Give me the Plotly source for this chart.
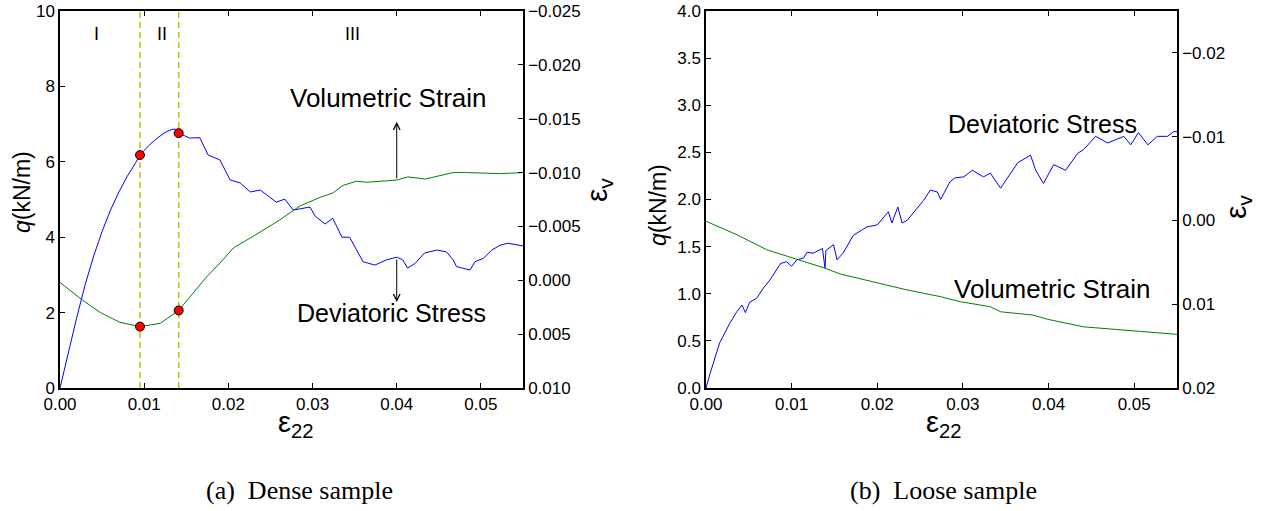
import plotly.graph_objects as go

# ---------------- Data: (a) Dense sample ----------------
dense_q_eps = [0.0, 0.001, 0.002, 0.003, 0.004, 0.005, 0.006, 0.007, 0.008, 0.009, 0.0095,
               0.0105, 0.0115, 0.0125, 0.0133, 0.0137, 0.0141, 0.0154, 0.0166, 0.0176, 0.019,
               0.0202, 0.0214, 0.0226, 0.0238, 0.0257, 0.0267, 0.0277, 0.0285, 0.0293, 0.0297,
               0.0303, 0.0315, 0.0324, 0.0335, 0.0344, 0.0354, 0.036, 0.0374, 0.0388, 0.04,
               0.0407, 0.0413, 0.0422, 0.0433, 0.0448, 0.0459, 0.0467, 0.0471, 0.0479, 0.0487,
               0.0493, 0.0503, 0.0513, 0.0523, 0.0532, 0.055]
dense_q = [0.0, 0.95, 1.88, 2.75, 3.5, 4.15, 4.72, 5.2, 5.62, 5.98, 6.18,
           6.42, 6.62, 6.78, 6.86, 6.87, 6.76, 6.63, 6.64, 6.18, 6.05,
           5.52, 5.44, 5.2, 5.25, 4.93, 5.01, 4.72, 4.75, 4.77, 4.8,
           4.56, 4.35, 4.5, 4.0, 4.0, 3.58, 3.35, 3.26, 3.4, 3.47,
           3.4, 3.18, 3.31, 3.58, 3.66, 3.61, 3.4, 3.22, 3.18, 3.13,
           3.35, 3.44, 3.66, 3.79, 3.84, 3.77]

dense_ev_eps = [0.0, 0.0026, 0.0048, 0.0071, 0.0095, 0.0119, 0.0141, 0.0154, 0.0174, 0.019,
                0.0206, 0.0234, 0.0261, 0.0285, 0.0309, 0.0324, 0.0336, 0.0352, 0.0364, 0.04,
                0.0413, 0.0434, 0.0467, 0.0483, 0.0523, 0.055]
dense_ev = [0.0002, 0.0018, 0.0030, 0.0039, 0.0043, 0.0040, 0.0028, 0.0016, -0.0003, -0.0016,
            -0.0030, -0.0043, -0.0056, -0.0069, -0.0077, -0.0081, -0.0088, -0.0092, -0.0091, -0.0093,
            -0.0096, -0.0094, -0.0100, -0.0100, -0.0099, -0.0100]

phase_eps = [0.0095, 0.0141]
phase_q = [6.18, 6.76]
phase_ev = [0.0043, 0.0028]
phase_labels = ["I", "II", "III"]
phase_label_eps = [0.0043, 0.0121, 0.0348]

# ---------------- Data: (b) Loose sample ----------------
loose_q_eps = [0.0, 0.0005, 0.0016, 0.0028, 0.0036, 0.0042, 0.0046, 0.0051, 0.0059, 0.0067,
               0.0075, 0.0087, 0.0094, 0.0100, 0.0106, 0.0114, 0.0118, 0.0125, 0.0136, 0.0139,
               0.0140, 0.0149, 0.0153, 0.0160, 0.0172, 0.0188, 0.0200, 0.0213, 0.0217, 0.0224,
               0.0229, 0.0235, 0.0254, 0.0262, 0.0270, 0.0274, 0.0285, 0.0291, 0.0301, 0.0311,
               0.0324, 0.0332, 0.0344, 0.0364, 0.0379, 0.0385, 0.0394, 0.0406, 0.0420, 0.0434,
               0.0441, 0.0455, 0.0469, 0.0488, 0.0496, 0.0505, 0.0516, 0.0527, 0.0539, 0.0546, 0.055]
loose_q = [0.0, 0.16, 0.48, 0.69, 0.81, 0.88, 0.80, 0.91, 0.95, 1.06,
           1.15, 1.32, 1.34, 1.29, 1.36, 1.38, 1.44, 1.43, 1.48, 1.27,
           1.46, 1.52, 1.36, 1.43, 1.62, 1.71, 1.73, 1.87, 1.75, 1.92,
           1.75, 1.78, 1.99, 2.10, 2.08, 2.00, 2.19, 2.23, 2.24, 2.31,
           2.24, 2.28, 2.12, 2.39, 2.47, 2.31, 2.17, 2.37, 2.31, 2.49,
           2.53, 2.67, 2.60, 2.67, 2.58, 2.71, 2.58, 2.67, 2.67, 2.72, 2.72]

loose_ev_eps = [0.0, 0.0036, 0.0071, 0.0102, 0.0139, 0.0157, 0.0195, 0.0235, 0.0274, 0.0297,
                0.0332, 0.0344, 0.0382, 0.0399, 0.0441, 0.0481, 0.0516, 0.055]
loose_ev = [0.0001, 0.0017, 0.0035, 0.0045, 0.0057, 0.0064, 0.0073, 0.0083, 0.0091, 0.0097,
            0.0103, 0.0109, 0.0113, 0.0118, 0.0127, 0.0130, 0.0133, 0.0136]

x_ticks = [0.0, 0.01, 0.02, 0.03, 0.04, 0.05]
dense_q_ticks = [0, 2, 4, 6, 8, 10]
dense_ev_ticks = [-0.025, -0.020, -0.015, -0.010, -0.005, 0.0, 0.005, 0.010]
loose_q_ticks = [0.0, 0.5, 1.0, 1.5, 2.0, 2.5, 3.0, 3.5, 4.0]
loose_ev_ticks = [-0.02, -0.01, 0.0, 0.01, 0.02]

BLUE = "#0000ff"
GREEN = "#008000"
YEL = "#bfbf00"
TICKFONT = dict(family="Liberation Sans, Arial, sans-serif", size=17, color="black")

fig = go.Figure()

# Dense sample
fig.add_trace(go.Scatter(x=dense_q_eps, y=dense_q, mode="lines", line=dict(color=BLUE, width=1),
                         xaxis="x", yaxis="y", showlegend=False))
fig.add_trace(go.Scatter(x=dense_ev_eps, y=dense_ev, mode="lines", line=dict(color=GREEN, width=1),
                         xaxis="x", yaxis="y2", showlegend=False))
for e in phase_eps:
    fig.add_trace(go.Scatter(x=[e, e], y=[0, 10], mode="lines",
                             line=dict(color=YEL, width=1.5, dash="6px,4px"),
                             xaxis="x", yaxis="y", showlegend=False))
fig.add_trace(go.Scatter(x=phase_eps, y=phase_q, mode="markers",
                         marker=dict(color="red", size=9, line=dict(color="black", width=1)),
                         xaxis="x", yaxis="y", showlegend=False))
fig.add_trace(go.Scatter(x=phase_eps, y=phase_ev, mode="markers",
                         marker=dict(color="red", size=9, line=dict(color="black", width=1)),
                         xaxis="x", yaxis="y2", showlegend=False))

# Loose sample
fig.add_trace(go.Scatter(x=loose_q_eps, y=loose_q, mode="lines", line=dict(color=BLUE, width=1),
                         xaxis="x2", yaxis="y3", showlegend=False))
fig.add_trace(go.Scatter(x=loose_ev_eps, y=loose_ev, mode="lines", line=dict(color=GREEN, width=1),
                         xaxis="x2", yaxis="y4", showlegend=False))

W, H = 1269, 511
ydom = [(H - 388) / H, (H - 11) / H]

def xax(dom, anchor):
    return dict(domain=dom, anchor=anchor, range=[0, 0.055], tickvals=x_ticks,
                tickformat=".2f", ticks="inside", ticklen=5, tickcolor="black",
                showline=True, linecolor="black", linewidth=1.5, mirror="ticks",
                showgrid=False, zeroline=False, tickfont=TICKFONT, automargin=False)

def yax(rng, tv, fmt, anchor, side="left", overlaying=None):
    d = dict(range=rng, tickvals=tv, tickformat=fmt, ticks="inside", ticklen=5,
             tickcolor="black", showline=True, linecolor="black", linewidth=1.5,
             showgrid=False, zeroline=False, tickfont=TICKFONT, anchor=anchor, side=side,
             automargin=False)
    if overlaying:
        d["overlaying"] = overlaying
    else:
        d["domain"] = ydom
    return d

fig.update_layout(
    width=W, height=H, margin=dict(l=0, r=0, t=0, b=0, autoexpand=False),
    paper_bgcolor="white", plot_bgcolor="white",
    xaxis=xax([60 / W, 523 / W], "y"),
    xaxis2=xax([706 / W, 1177 / W], "y3"),
    yaxis=yax([0, 10], dense_q_ticks, "d", "x"),
    yaxis2=yax([0.010, -0.025], dense_ev_ticks, ".3f", "x", "right", "y"),
    yaxis3=yax([0, 4], loose_q_ticks, ".1f", "x2"),
    yaxis4=yax([0.02, -0.025], loose_ev_ticks, ".2f", "x2", "right", "y3"),
)

LBL = dict(family="Liberation Sans, Arial, sans-serif", color="black")
C = dict(xanchor="center", yanchor="middle", showarrow=False)
ann = []
# Phase labels
for lab, e in zip(phase_labels, phase_label_eps):
    ann.append(dict(C, x=e, y=9.38, xref="x", yref="y", text=lab, font=dict(LBL, size=18)))
# Dense annotations
ann.append(dict(C, x=0.0390, y=7.68, xref="x", yref="y", text="Volumetric Strain",
                font=dict(LBL, size=26)))
ann.append(dict(C, x=0.0394, y=1.98, xref="x", yref="y", text="Deviatoric Stress",
                font=dict(LBL, size=25)))
ann.append(dict(x=0.04, y=7.06, ax=0.04, ay=5.52, xref="x", yref="y", axref="x", ayref="y",
                text="", showarrow=True, arrowhead=5, arrowsize=1.3, arrowwidth=1, arrowcolor="black"))
ann.append(dict(x=0.04, y=2.28, ax=0.04, ay=3.45, xref="x", yref="y", axref="x", ayref="y",
                text="", showarrow=True, arrowhead=5, arrowsize=1.3, arrowwidth=1, arrowcolor="black"))
# Loose annotations
ann.append(dict(C, x=0.0393, y=2.80, xref="x2", yref="y3", text="Deviatoric Stress",
                font=dict(LBL, size=25)))
ann.append(dict(C, x=0.0405, y=1.05, xref="x2", yref="y3", text="Volumetric Strain",
                font=dict(LBL, size=26)))

# Axis titles
def pxx(px):
    return px / W

def pxy(py):
    return (H - py) / H

for cx, cy in [(22, 192), (658, 205)]:
    ann.append(dict(C, x=pxx(cx), y=pxy(cy), xref="paper", yref="paper", text="<i>q</i>(kN/m)",
                    textangle=-90, font=dict(LBL, size=23)))
for cx, cy in [(598, 190), (1237, 207)]:
    ann.append(dict(C, x=pxx(cx), y=pxy(cy), xref="paper", yref="paper", text="ε<sub>v</sub>",
                    textangle=-90, font=dict(LBL, size=30)))
for cx, cy in [(296, 424), (944, 424)]:
    ann.append(dict(C, x=pxx(cx), y=pxy(cy), xref="paper", yref="paper", text="ε<sub>22</sub>",
                    font=dict(LBL, size=29)))
# Captions
for cx, txt in [(299, "(a)  Dense sample"), (943, "(b)  Loose sample")]:
    ann.append(dict(C, x=pxx(cx), y=pxy(490), xref="paper", yref="paper", text=txt,
                    font=dict(family="Liberation Serif, Times New Roman, serif", size=26, color="black")))

fig.update_layout(annotations=ann)
fig.write_html("out.html")
